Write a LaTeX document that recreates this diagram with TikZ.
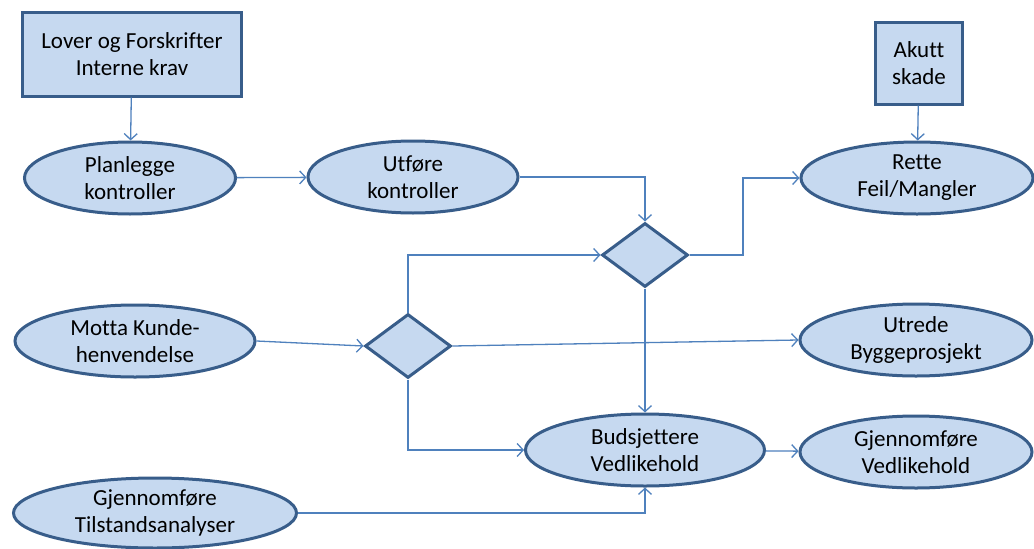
\documentclass[tikz,border=0pt]{standalone}
\usepackage{fontspec}
\setmainfont{Carlito}[Ligatures=NoCommon]
\usepackage{xcolor}
\usepackage{tikz}
\usetikzlibrary{arrows.meta,positioning,calc,shapes.geometric}
\definecolor{fyll}{RGB}{198,217,240}
\definecolor{kant}{RGB}{56,93,138}
\definecolor{linje}{RGB}{79,129,189}

\begin{document}
\begin{tikzpicture}[x=1pt, y=-1pt,
    font=\fontsize{23}{27}\selectfont,
    boks/.style={rectangle, draw=kant, fill=fyll, line width=3pt, align=center, inner sep=0pt},
    prosess/.style={ellipse, draw=kant, fill=fyll, line width=3pt, align=center, inner sep=0pt, minimum height=72pt},
    valg/.style={diamond, draw=kant, fill=fyll, line width=3pt, inner sep=0pt, minimum width=86pt, minimum height=64pt},
    pil/.style={draw=linje, line width=1.3pt, -{Straight Barb[length=6pt,width=13pt,line width=1.3pt]}}]
  \fill[white] (0,0) rectangle (1034,549);
  \useasboundingbox (0,0) rectangle (1034,549);
  % kilder
  \node[boks, minimum width=219pt, minimum height=84pt] (lover) at (132,54) {Lover og Forskrifter\\Interne krav};
  \node[boks, minimum width=87pt, minimum height=82pt] (akutt) at (919,63) {Akutt\\skade};
  % prosesser
  \node[prosess, minimum width=211pt] (planlegge) at (130,178) {Planlegge\\kontroller};
  \node[prosess, minimum width=210pt] (utfore) at (413,177) {Utføre\\kontroller};
  \node[prosess, minimum width=232pt] (rette) at (917,178) {Rette\\Feil/Mangler};
  \node[prosess, minimum width=240pt] (motta) at (135,341) {Motta Kunde-\\henvendelse};
  \node[prosess, minimum width=232pt] (utrede) at (916,340) {Utrede\\Byggeprosjekt};
  \node[prosess, minimum width=239pt] (budsjett) at (645,450) {Budsjettere\\Vedlikehold};
  \node[prosess, minimum width=232pt] (vedlikehold) at (916,452) {Gjennomføre\\Vedlikehold};
  \node[prosess, minimum width=283pt, minimum height=70pt] (tilstand) at (155,513) {Gjennomføre\\Tilstandsanalyser};
  % beslutninger
  \node[valg] (valg1) at (645,255) {};
  \node[valg] (valg2) at (408,346) {};
  \coordinate (knekk) at (743,255);
  % piler
  \draw[pil] (lover) -- (planlegge);
  \draw[pil] (akutt) -- (rette);
  \draw[pil] (planlegge) -- (utfore);
  \draw[pil] (utfore.east) -| (valg1.north);
  \draw[pil] (valg1.east) -- (knekk) |- (rette.west);
  \draw[pil] (valg1.south) -- (budsjett.north);
  \draw[pil] (motta.east) -- (valg2.west);
  \draw[pil] (valg2.east) -- (utrede.west);
  \draw[pil] (valg2.north) |- (valg1.west);
  \draw[pil] (valg2.south) |- (budsjett.west);
  \draw[pil] (tilstand.east) -| (budsjett.south);
  \draw[pil] (budsjett) -- (vedlikehold);
\end{tikzpicture}
\end{document}
